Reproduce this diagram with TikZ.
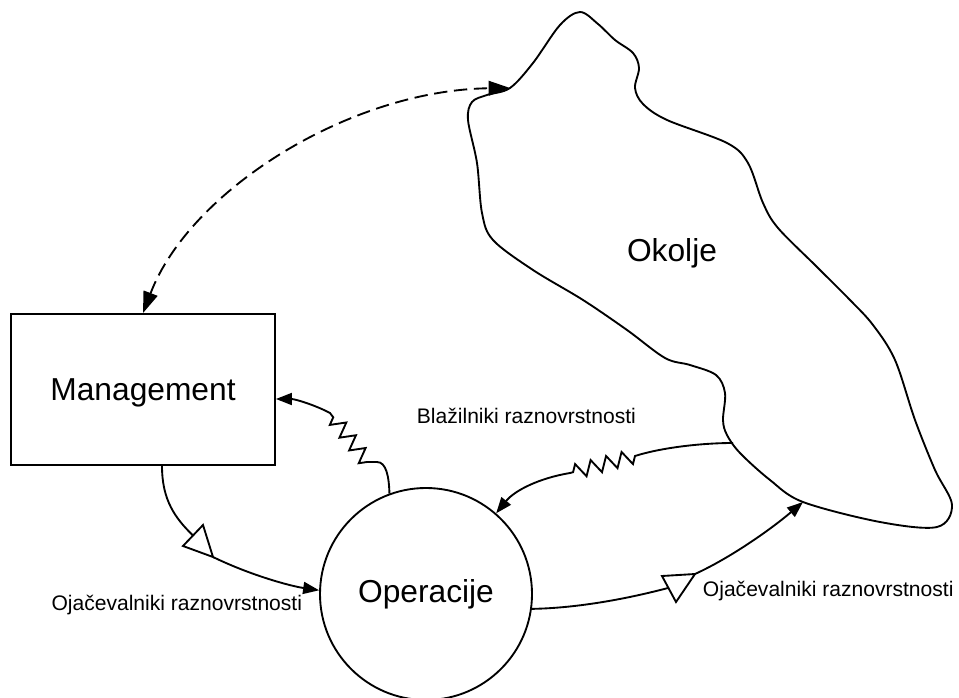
\documentclass[tikz,border=0pt]{standalone}
\usepackage{fontspec}
\setmainfont{Liberation Sans}
\usetikzlibrary{arrows.meta,calc,decorations.pathmorphing}

\begin{document}
\begin{tikzpicture}[x=0.75pt,y=-0.75pt,
  line width=1.4pt,
  big/.style={font=\fontsize{23.8pt}{28pt}\selectfont},
  small/.style={font=\fontsize{15.8pt}{19pt}\selectfont, inner sep=0pt},
  tip/.style={-{Triangle[length=12pt,width=9pt]}},
  bothtips/.style={{Triangle[length=16pt,width=11pt]}-{Triangle[length=16pt,width=11pt]}},
  spring/.style={decoration={zigzag,segment length=12pt,amplitude=5.5pt}},
  amp/.style={fill=white, line join=miter}
]
\useasboundingbox (0,0) rectangle (959,698);

% environment outline
\draw plot[smooth cycle, tension=0.55] coordinates {
  (580,12) (598,24) (615,40) (633,53) (639,68) (635,88) (643,104)
  (667,120) (727,143) (748,163) (763,203) (778,228) (817,267)
  (850,300) (873,325) (895,360) (915,420) (935,470) (952,505)
  (937,527) (880,522) (803,502) (770,480) (740,453) (727,435)
  (723,420) (725,393) (716,375) (690,365) (665,358) (627,330)
  (583,300) (533,270) (493,240) (482,213) (477,163) (468,120)
  (472,102) (487,95) (510,88) (533,63) (560,25)};
\coordinate (envIn) at (510,88);
\coordinate (envOut) at (733,443);
\coordinate (envAmp) at (803,502);
\node[big] (env) at (672,253) {Okolje};

% management and operations
\node[big, draw, minimum width=198pt, minimum height=113.25pt, text depth=0pt] (mgmt) at (143,389.5) {Management};
\node[big, draw, circle, minimum size=159pt, inner sep=0pt] (ops) at (426,594) {Operacije};

% management <-> environment
\draw[bothtips, dash pattern=on 10pt off 5pt] (mgmt.north) .. controls (190,190) and (350,90) .. (envIn);

% attenuators
\draw[tip] (ops.110) .. controls (389,476) and (386,462) .. (377,462) -- (367,462)
  decorate[spring]{-- (330,413)} .. controls (315,405) and (295,399) .. ($(mgmt.east)+(0,9.5)$);
\draw[tip] (envOut) .. controls (700,443) and (660,448) .. (635,456)
  decorate[spring]{-- (570,473)} .. controls (540,478) and (515,490) .. (ops.49);

% amplifier: management -> operations
\coordinate (a1l) at (183,546);
\coordinate (a1r) at (203,525);
\coordinate (a1t) at (213,557);
\coordinate (a1m) at (193,535.5);
\draw ($(mgmt.south)+(19,0)$) .. controls (162,500) and (175,518) .. (a1m);
\draw[amp] (a1l) -- (a1r) -- (a1t) -- cycle;
\draw[tip] (a1t) .. controls (250,575) and (290,586) .. (ops.178);

% amplifier: operations -> environment
\coordinate (a2l) at (662,576);
\coordinate (a2r) at (695,574);
\coordinate (a2b) at (676,602);
\coordinate (a2e) at (668,588);
\draw (ops.-8) .. controls (580,608) and (630,598) .. (a2e);
\draw[amp] (a2l) -- (a2r) -- (a2b) -- cycle;
\draw[tip] (a2r) .. controls (730,558) and (770,530) .. (envAmp);

% labels
\node[small, anchor=base west] (att) at (416,423) {Blažilniki raznovrstnosti};
\node[small, anchor=base east] (ampl) at (303,610) {Ojačevalniki raznovrstnosti};
\node[small, anchor=base west] (ampr) at (702,596) {Ojačevalniki raznovrstnosti};
\end{tikzpicture}
\end{document}
